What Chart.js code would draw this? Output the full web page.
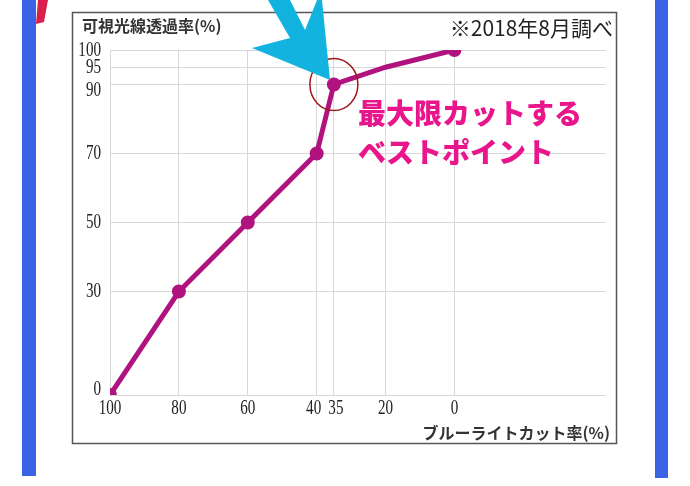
<!DOCTYPE html>
<html><head><meta charset="utf-8">
<script src="https://cdn.jsdelivr.net/npm/chart.js@4/dist/chart.umd.min.js"></script>
<style>html,body{margin:0;padding:0;background:#fff}#c{display:block}</style>
</head><body>
<canvas id="c" width="690" height="486"></canvas>
<script>
const cutRates = [100, 80, 60, 40, 35, 20, 0];
const transmission = [0, 30, 50, 70, 90, 95, 100];
const markers = [1, 1, 1, 1, 1, 0, 1];
const xTicks = [100, 80, 60, 40, 35, 20, 0];
const xTickLabels = ['100', '80', '60', '40', '35', '20', '0'];
const yTicks = [0, 30, 50, 70, 90, 95, 100];
const yTickLabels = ['0', '30', '50', '70', '90', '95', '100'];

const deco = {
  id: 'deco',
  beforeDraw(ch) {
    const c = ch.ctx;
    c.save();
    c.fillStyle = '#fff'; c.fillRect(0, 0, 690, 486);
    c.fillStyle = '#3b63e6';
    c.fillRect(22, 0, 14, 476); c.fillRect(655, 0, 13, 478);
    c.fillStyle = '#d8204a';
    c.beginPath(); c.moveTo(38, 0); c.lineTo(48, 0); c.lineTo(44, 22); c.lineTo(36, 24); c.closePath(); c.fill();
    c.fillStyle = '#fff'; c.fillRect(72, 12, 545, 432);
    c.strokeStyle = '#555'; c.lineWidth = 1.5; c.strokeRect(72.5, 12.5, 544, 431);
    c.restore();
  },
  afterDraw(ch) {
    const c = ch.ctx, xs = ch.scales.x, ys = ch.scales.y;
    c.save();
    c.fillStyle = '#222';
    c.font = '21px "Liberation Serif", serif';
    c.textAlign = 'right'; c.textBaseline = 'middle';
    yTicks.forEach((v, i) => {
      let y = ys.getPixelForValue(v);
      if (v === 0) y -= 6; if (v === 90) y += 6;
      c.save(); c.translate(101, y); c.scale(0.72, 1); c.fillText(yTickLabels[i], 0, 0); c.restore();
    });
    c.textAlign = 'center'; c.textBaseline = 'top';
    xTicks.forEach((v, i) => {
      let x = xs.getPixelForValue(v);
      if (v === 40) x -= 3; if (v === 35) x += 2;
      c.save(); c.translate(x, 398); c.scale(0.72, 1); c.fillText(xTickLabels[i], 0, 0); c.restore();
    });
    c.font = 'bold 16px "Noto Sans CJK JP"';
    c.textAlign = 'left'; c.textBaseline = 'middle';
    c.fillStyle = '#333';
    c.fillText('可視光線透過率(%)', 82, 26);
    c.textAlign = 'right';
    c.fillText('ブルーライトカット率(%)', 610, 433);
    c.font = '21px "Noto Sans CJK JP"';
    c.fillStyle = '#222';
    c.fillText('※2018年8月調べ', 613, 28);
    const px = xs.getPixelForValue(35), py = ys.getPixelForValue(90);
    c.strokeStyle = '#a01818'; c.lineWidth = 1.5;
    c.beginPath(); c.ellipse(px, py, 24, 26, 0, 0, Math.PI * 2); c.stroke();
    c.fillStyle = '#12b3de';
    c.beginPath();
    c.moveTo(268, 0); c.lineTo(290, 0); c.lineTo(305, 30); c.lineTo(317, 0); c.lineTo(322, 0);
    c.lineTo(330, 80); c.lineTo(252, 48); c.lineTo(290, 38); c.closePath(); c.fill();
    c.fillStyle = '#e8168a'; c.font = '900 28px "Noto Sans CJK JP"'; c.textAlign = 'left';
    c.fillText('最大限カットする', 358, 113);
    c.fillText('ベストポイント', 358, 152);
    c.restore();
  }
};

new Chart(document.getElementById('c'), {
  type: 'line',
  data: { datasets: [{
    data: cutRates.map((x, i) => ({ x, y: transmission[i] })),
    borderColor: '#b0127e', backgroundColor: '#b0127e', borderWidth: 5,
    pointRadius: markers.map(m => m ? 4.5 : 0), pointHoverRadius: 0, tension: 0
  }]},
  options: {
    responsive: false, animation: false, devicePixelRatio: 1,
    layout: { padding: { left: 110, right: 84, top: 50, bottom: 91 } },
    plugins: { legend: { display: false }, tooltip: { enabled: false } },
    scales: {
      x: { type: 'linear', reverse: true, min: -44, max: 100,
        afterBuildTicks: s => { s.ticks = xTicks.map(v => ({ value: v })); },
        ticks: { display: false }, border: { display: false },
        grid: { color: '#d8d8d8', drawTicks: false } },
      y: { min: 0, max: 100,
        afterBuildTicks: s => { s.ticks = yTicks.map(v => ({ value: v })); },
        ticks: { display: false }, border: { display: false },
        grid: { color: '#d8d8d8', drawTicks: false } }
    }
  },
  plugins: [deco]
});
</script>
</body></html>
